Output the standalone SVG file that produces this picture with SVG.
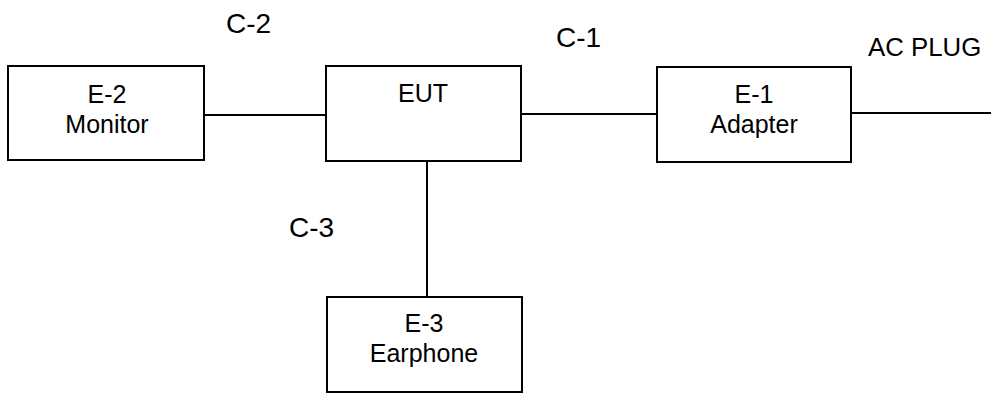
<svg xmlns="http://www.w3.org/2000/svg" width="991" height="394" viewBox="0 0 991 394">
<style>
.box{fill:#fff;stroke:#000;stroke-width:2}
.ln{stroke:#000;stroke-width:2;fill:none}
text{font-family:"Liberation Sans",Arial,sans-serif;font-size:25px;fill:#000}
.c{text-anchor:middle}
.lbl{font-size:28px}
</style>
<rect width="991" height="394" fill="#fff"/>
<g id="connectors">
<line class="ln" x1="204" y1="115" x2="326" y2="115"/>
<line class="ln" x1="521" y1="114" x2="657" y2="114"/>
<line class="ln" x1="851" y1="113" x2="991" y2="113"/>
<line class="ln" x1="427" y1="161" x2="427" y2="297"/>
<text class="lbl" x="226" y="33">C-2</text>
<text class="lbl" x="556" y="47">C-1</text>
<text x="868" y="56" style="font-size:25.8px">AC PLUG</text>
<text class="lbl" x="289" y="237">C-3</text>
</g>
<g id="E-2">
<rect class="box" x="8" y="66" width="196" height="94"/>
<text class="c" x="107" y="103">E-2</text>
<text class="c" x="107" y="133">Monitor</text>
</g>
<g id="EUT">
<rect class="box" x="326" y="66" width="195" height="95"/>
<text class="c" x="423" y="102">EUT</text>
</g>
<g id="E-1">
<rect class="box" x="657" y="67" width="194" height="95"/>
<text class="c" x="754" y="103">E-1</text>
<text class="c" x="754" y="133">Adapter</text>
</g>
<g id="E-3">
<rect class="box" x="327" y="297" width="195" height="95"/>
<text class="c" x="424" y="332">E-3</text>
<text class="c" x="424" y="362">Earphone</text>
</g>
</svg>
